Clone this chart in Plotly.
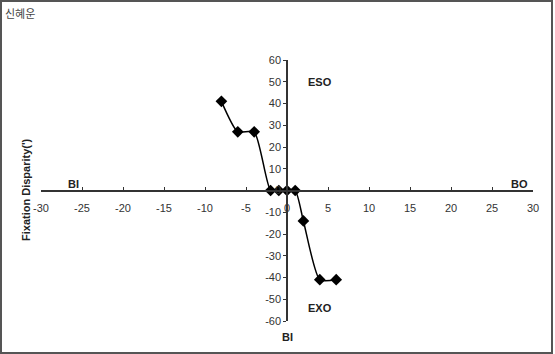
import plotly.graph_objects as go

x_vals = [-8, -6, -4, -2, -1, 0, 1, 2, 4, 6]
y_vals = [41, 27, 27, 0, 0, 0, 0, -14, -41, -41]
x_ticks = [-30, -25, -20, -15, -10, -5, 0, 5, 10, 15, 20, 25, 30]
y_ticks = [-60, -50, -40, -30, -20, -10, 0, 10, 20, 30, 40, 50, 60]

W, H = 555, 354
L, R, T, B = 41, 22, 60, 33
pw, ph = W - L - R, H - T - B

def px(xp):
    return (xp - L) / pw

def py(yp):
    return (H - B - yp) / ph

fig = go.Figure()
fig.add_trace(go.Scatter(
    x=x_vals, y=y_vals, mode="lines+markers",
    line=dict(color="black", width=1.5, shape="spline", smoothing=0.6),
    marker=dict(symbol="diamond", size=9, color="black"),
    showlegend=False, cliponaxis=False,
))

tf = dict(family="Liberation Sans, Arial, sans-serif", size=11, color="#333333")

fig.update_layout(
    width=W, height=H,
    margin=dict(l=L, r=R, t=T, b=B),
    paper_bgcolor="white", plot_bgcolor="white",
    font=tf,
    xaxis=dict(
        range=[-30, 30], tickvals=x_ticks, ticktext=[str(v) for v in x_ticks],
        anchor="free", position=0.5, showline=True, linecolor="#333", linewidth=1.5,
        ticks="inside", ticklen=3, tickcolor="#333", showgrid=False, zeroline=False,
        tickfont=tf, ticklabelstandoff=8,
    ),
    yaxis=dict(
        range=[-60, 60], tickvals=y_ticks, ticktext=[str(v) for v in y_ticks],
        anchor="free", position=0.5, showline=True, linecolor="#333", linewidth=1.5,
        ticks="outside", ticklen=3, tickcolor="#333", showgrid=False, zeroline=False,
        tickfont=tf,
    ),
)

bold = dict(family="Liberation Sans, Arial, sans-serif", size=11, color="#222")
ann = [
    dict(x=-26, y=0, text="<b>BI</b>", yshift=7, xref="x", yref="y"),
    dict(x=28.4, y=0, text="<b>BO</b>", yshift=7, xref="x", yref="y"),
    dict(x=4, y=50, text="<b>ESO</b>", xref="x", yref="y"),
    dict(x=4, y=-54, text="<b>EXO</b>", xref="x", yref="y"),
]
for a in ann:
    fig.add_annotation(showarrow=False, font=bold, **a)

fig.add_annotation(x=px(18), y=py(190), xref="paper", yref="paper", text="<b>Fixation Disparity(')</b>",
                   textangle=-90, showarrow=False, font=bold)
fig.add_annotation(x=px(287), y=py(345), xref="paper", yref="paper", text="<b>BI</b>",
                   showarrow=False, font=bold)
fig.add_annotation(x=px(3), y=py(3), xref="paper", yref="paper", text="신혜운",
                   xanchor="left", yanchor="top", showarrow=False,
                   font=dict(family="Noto Sans CJK KR", size=11, color="#444"))

fig.add_shape(type="rect", xref="paper", yref="paper",
              x0=px(1), x1=px(552), y0=py(353), y1=py(1),
              line=dict(color="#555", width=2), fillcolor="rgba(0,0,0,0)")

fig.write_html("out.html")
